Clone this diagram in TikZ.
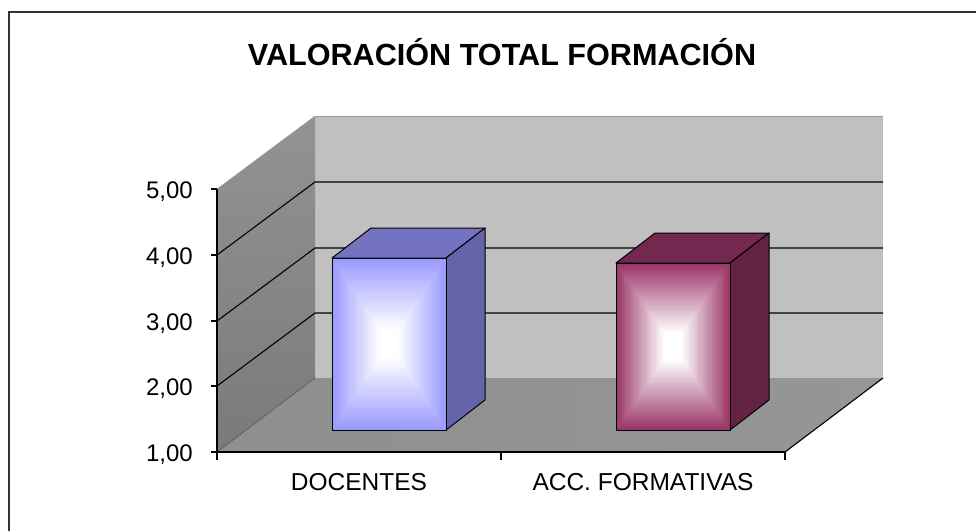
\documentclass[tikz,border=0pt]{standalone}
\usepackage{fontspec}
\setmainfont{Liberation Sans}
\definecolor{backwall}{HTML}{C0C0C0}
\definecolor{leftwall}{HTML}{808080}
\definecolor{floorc}{HTML}{969696}
\definecolor{blueF}{HTML}{9999FF}
\definecolor{blueT}{HTML}{7373C2}
\definecolor{blueS}{HTML}{6464A8}
\definecolor{pinkF}{HTML}{993366}
\definecolor{pinkT}{HTML}{74284F}
\definecolor{pinkS}{HTML}{642244}
\definecolor{framec}{HTML}{333333}
\newcommand{\gradface}[5]{%
  \pgfmathsetmacro\cxx{(#2+#4)/2}%
  \pgfmathsetmacro\cyy{(#3+#5)/2}%
  \pgfmathsetmacro\hw{(#4-#2)/2}%
  \pgfmathsetmacro\hh{(#5-#3)/2}%
  \foreach \ii in {0,...,50}{%
    \pgfmathsetmacro\tfac{1-\ii/50}%
    \pgfmathtruncatemacro\pct{max(0,min(100,(\tfac-0.16)/0.84*100))}%
    \fill[#1!\pct!white] (\cxx-\hw*\tfac,\cyy-\hh*\tfac) rectangle (\cxx+\hw*\tfac,\cyy+\hh*\tfac);
  }%
}
\tikzset{
  axisline/.style={black, line width=1.1pt},
  gridl/.style={black, line width=1.1pt},
  ylab/.style={anchor=east, font=\fontsize{24}{27}\selectfont, inner sep=0pt},
  xlab/.style={anchor=base, font=\fontsize{24.5}{28}\selectfont, inner sep=0pt},
  baredge/.style={draw=black, line width=1pt, line join=round},
}
\begin{document}
\begin{tikzpicture}[x=1pt,y=-1pt]
\useasboundingbox (0,0) rectangle (976,531);
\fill[white] (0,0) rectangle (976,531);
% frame
\draw[framec, line width=1.6pt] (9,531) -- (9,12) -- (977,12);
% title
\node[anchor=base, font=\bfseries\fontsize{30.6}{34}\selectfont, inner sep=0pt] (title) at (502,65) {VALORACIÓN TOTAL FORMACIÓN};
% walls
\fill[backwall] (315,116) rectangle (883,378);
\draw[gray!80!white, line width=0.6pt] (315,116) -- (883,116);
\shade[top color=leftwall!85!white, bottom color=leftwall!95!black] (217,189) -- (315,116) -- (315,378) -- (217,452) -- cycle;
\shade[left color=floorc!95!black, right color=floorc] (217,452) -- (315,378) -- (883,378) -- (785,452) -- cycle;
\draw[gray!60!black, line width=0.5pt] (217,452) -- (315,378);
\draw[gray!70!white, line width=0.5pt] (217,189) -- (315,116);
% gridlines
\foreach \gy in {255,321,386}{
  \draw[gridl] (217,\gy) -- (315,\gy-73) -- (883,\gy-73);
}
% floor right edge
\draw[axisline] (785,452) -- (883,378);
% axes
\draw[axisline] (217,189) -- (217,452) -- (785,452);
\foreach \gy in {189,255,321,386,452}{ \draw[axisline] (211,\gy) -- (217,\gy); }
\foreach \gx in {217,501,785}{ \draw[axisline] (\gx,452) -- (\gx,460); }
% y labels
\node[ylab] (y5) at (193,192) {5,00};
\node[ylab] (y4) at (193,258) {4,00};
\node[ylab] (y3) at (193,324) {3,00};
\node[ylab] (y2) at (193,389) {2,00};
\node[ylab] (y1) at (193,455) {1,00};
% x labels
\node[xlab] (xa) at (359,490) {DOCENTES};
\node[xlab] (xb) at (643,490) {ACC. FORMATIVAS};
% blue bar
\path[baredge, fill=blueT] (332,258) -- (371,228) -- (485,228) -- (446,258) -- cycle;
\path[baredge, fill=blueS] (446,258) -- (485,228) -- (485,400) -- (446,430) -- cycle;
\gradface{blueF}{332}{258}{446}{430}
\draw[baredge] (332,258) rectangle (446,430);
% pink bar
\path[baredge, fill=pinkT] (616,263) -- (655,233) -- (769,233) -- (730,263) -- cycle;
\path[baredge, fill=pinkS] (730,263) -- (769,233) -- (769,400) -- (730,430) -- cycle;
\gradface{pinkF}{616}{263}{730}{430}
\draw[baredge] (616,263) rectangle (730,430);
\end{tikzpicture}
\end{document}
